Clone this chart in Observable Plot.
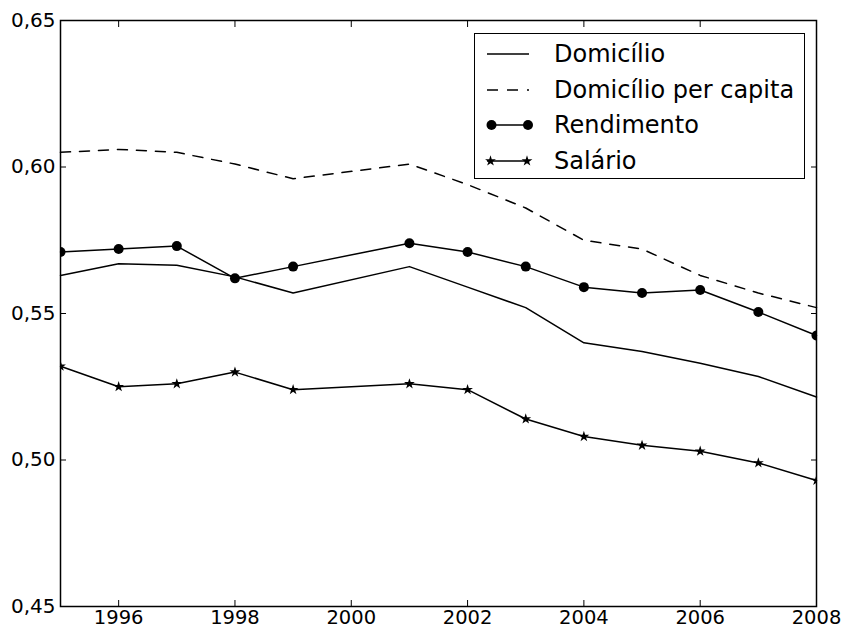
<!DOCTYPE html>
<html>
<head>
<meta charset="utf-8">
<script src="https://cdn.jsdelivr.net/npm/d3@7"></script>
<script src="https://cdn.jsdelivr.net/npm/@observablehq/plot@0.6"></script>
<style>
  body { margin: 0; background: #fff; font-family: "DejaVu Sans", sans-serif; overflow: hidden; }
  #wrap { position: relative; width: 846px; height: 629px; }
  #legend { position: absolute; left: 474px; top: 33px; width: 331px; height: 146px;
            box-sizing: border-box; border: 1.5px solid #000; background: #fff; }
  .row { position: absolute; left: 0; height: 30px; display: flex; align-items: center; }
  .row svg { display: block; }
  .row span { font-size: 24px; color: #000; margin-left: 14px; white-space: nowrap; }
</style>
</head>
<body>
<div id="wrap"></div>
<script>
const years = [1995, 1996, 1997, 1998, 1999, 2001, 2002, 2003, 2004, 2005, 2006, 2007, 2008];
const domicilio = [0.563, 0.567, 0.5665, 0.5625, 0.557, 0.566, 0.559, 0.552, 0.540, 0.537, 0.533, 0.5285, 0.5215];
const domicilioPerCapita = [0.605, 0.606, 0.605, 0.601, 0.596, 0.601, 0.594, 0.586, 0.575, 0.572, 0.563, 0.557, 0.552];
const rendimento = [0.571, 0.572, 0.573, 0.562, 0.566, 0.574, 0.571, 0.566, 0.559, 0.557, 0.558, 0.5505, 0.5425];
const salario = [0.532, 0.525, 0.526, 0.530, 0.524, 0.526, 0.524, 0.514, 0.508, 0.505, 0.503, 0.499, 0.493];

const xTicks = [1996, 1998, 2000, 2002, 2004, 2006, 2008];
const yTicks = [0.45, 0.50, 0.55, 0.60, 0.65];
const seriesNames = ["Domicílio", "Domicílio per capita", "Rendimento", "Salário"];

const mk = vals => years.map((y, i) => ({year: y, value: vals[i]}));
const dDom = mk(domicilio), dPc = mk(domicilioPerCapita), dRen = mk(rendimento), dSal = mk(salario);

const fmtY = d => d.toFixed(2).replace(".", ",");
const fmtX = d => String(d);
const LW = 1.5;

const chart = Plot.plot({
  width: 846,
  height: 629,
  marginLeft: 60,
  marginRight: 30,
  marginTop: 20,
  marginBottom: 23,
  style: { fontFamily: "DejaVu Sans", fontSize: "20px", color: "#000", background: "#fff" },
  x: { domain: [1995, 2008] },
  y: { domain: [0.45, 0.65] },
  marks: [
    Plot.lineY(dDom, { x: "year", y: "value", stroke: "#000", strokeWidth: LW }),
    Plot.lineY(dPc, { x: "year", y: "value", stroke: "#000", strokeWidth: LW, strokeDasharray: "10,9" }),
    Plot.lineY(dRen, { x: "year", y: "value", stroke: "#000", strokeWidth: LW }),
    Plot.dot(dRen, { x: "year", y: "value", fill: "#000", r: 5, clip: true }),
    Plot.lineY(dSal, { x: "year", y: "value", stroke: "#000", strokeWidth: LW }),
    Plot.dot(dSal, { x: "year", y: "value", fill: "#000", symbol: "star", r: 3.4, clip: true }),
    // inward ticks on all four sides
    Plot.axisX({ anchor: "bottom", ticks: xTicks, tickSize: -6, tickFormat: () => "", label: null, strokeWidth: 1 }),
    Plot.axisX({ anchor: "top", ticks: xTicks, tickSize: -6, tickFormat: () => "", label: null, strokeWidth: 1 }),
    Plot.axisY({ anchor: "left", ticks: yTicks, tickSize: -6, tickFormat: () => "", label: null, strokeWidth: 1 }),
    Plot.axisY({ anchor: "right", ticks: yTicks, tickSize: -6, tickFormat: () => "", label: null, strokeWidth: 1 }),
    // tick labels
    Plot.axisX({ anchor: "bottom", ticks: xTicks, tickSize: 0, tickPadding: 3.5, tickFormat: fmtX, label: null, fontSize: 19.5 }),
    Plot.axisY({ anchor: "left", ticks: yTicks, tickSize: 0, tickPadding: 5, tickFormat: fmtY, label: null, fontSize: 20 }),
    Plot.frame({ stroke: "#000", strokeWidth: 1.5 })
  ]
});

const wrap = document.getElementById("wrap");
wrap.appendChild(chart);

// Legend overlay
const legend = document.createElement("div");
legend.id = "legend";
wrap.appendChild(legend);
const starPath = d3.symbol(d3.symbolStar, Math.PI * 3.4 * 3.4)();
const kinds = ["solid", "dashed", "circle", "star"];
const rowCenters = [20, 55.5, 91, 126.5];
seriesNames.forEach((name, i) => {
  const row = document.createElement("div");
  row.className = "row";
  row.style.top = (rowCenters[i] - 15) + "px";
  const k = kinds[i];
  let inner = "";
  if (k === "dashed") {
    inner = `<line x1="12" y1="15" x2="54" y2="15" stroke="#000" stroke-width="${LW}" stroke-dasharray="11,9"/>`;
  } else {
    inner = `<line x1="12" y1="15" x2="54" y2="15" stroke="#000" stroke-width="${LW}"/>`;
  }
  if (k === "circle") {
    inner += `<circle cx="16.5" cy="15" r="5" fill="#000"/><circle cx="53" cy="15" r="5" fill="#000"/>`;
  }
  if (k === "star") {
    inner += `<path transform="translate(15.5,15)" d="${starPath}" fill="#000"/><path transform="translate(52,15)" d="${starPath}" fill="#000"/>`;
  }
  row.innerHTML = `<svg width="65" height="30">${inner}</svg><span>${name}</span>`;
  legend.appendChild(row);
});
</script>
</body>
</html>
